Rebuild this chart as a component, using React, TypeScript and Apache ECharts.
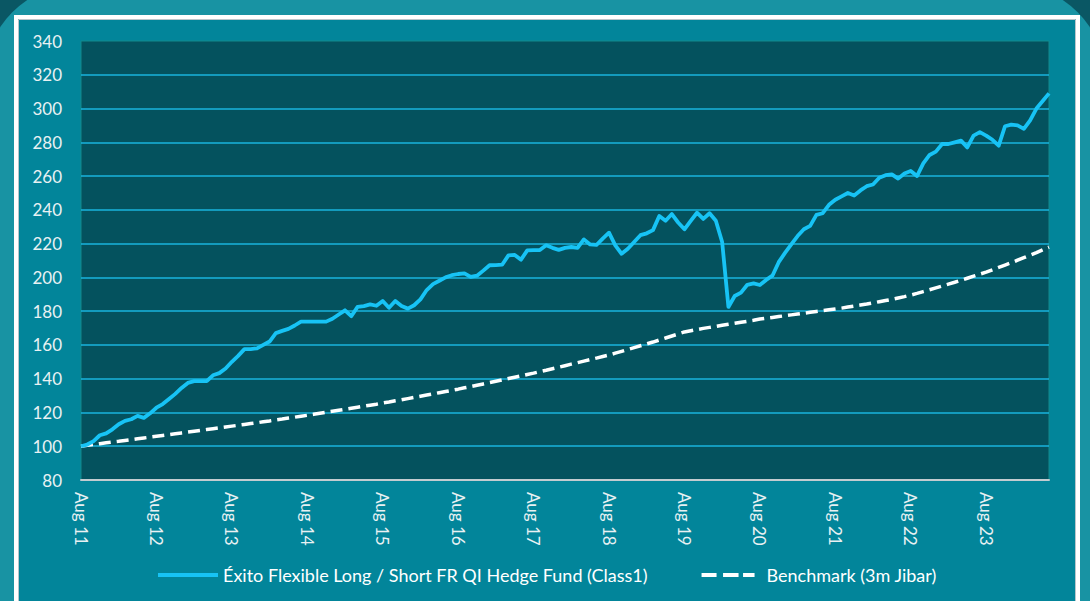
import React, { useEffect, useRef } from "react";
import * as echarts from "echarts";

const MONTHS = ["Jan", "Feb", "Mar", "Apr", "May", "Jun", "Jul", "Aug", "Sep", "Oct", "Nov", "Dec"];
const FIRST_YEAR = 11;
const FIRST_MONTH = 7; // Aug
const POINTS = 155;

const categories: string[] = [];
for (let i = 0; i < POINTS; i++) {
  const m = (FIRST_MONTH + i) % 12;
  const y = FIRST_YEAR + Math.floor((FIRST_MONTH + i) / 12);
  categories.push(`${MONTHS[m]} ${y}`);
}

const fundName = "Éxito Flexible Long / Short FR QI Hedge Fund (Class1)";
const benchName = "Benchmark (3m Jibar)";

const fund = [
  100, 101, 103, 106.5, 107.6, 110, 113, 115, 116, 118, 116.8, 119.5,
  122.8, 125, 128, 131, 134.5, 137.5, 138.6, 138.6, 138.6, 142, 143.3, 146,
  150, 153.5, 157.5, 157.5, 158, 160, 162, 167, 168.3, 169.5, 171.5, 173.8,
  173.8, 173.8, 173.8, 173.8, 175.5, 178, 180.5, 177, 182.5, 183, 184, 183.2,
  186, 182, 186, 183, 181.5, 183.5, 187, 192.5, 196, 198, 200, 201.3,
  202, 202.4, 200.3, 201, 204, 207.2, 207.3, 207.5, 213, 213.3, 210.5, 216,
  216.2, 216.2, 219, 217.5, 216.3, 217.5, 218, 217.5, 222.5, 219.5, 219.2, 223,
  226.5, 219, 214, 217, 221, 225, 226.1, 228, 236.4, 233.5, 237.5, 232.5,
  228.5, 233.5, 238.3, 234.6, 238, 233.5, 221, 182.5, 189, 191, 195.6, 196.5,
  195.5, 198.5, 201, 209, 214.5, 219.5, 224.5, 228.5, 230.5, 237, 238, 243,
  246, 248, 250, 248.5, 251.5, 254, 255, 259, 260.5, 261, 258.5, 261.5,
  263, 260, 267.5, 272.5, 274.5, 279, 279, 280, 281, 277, 284, 286,
  284, 281.5, 278, 289.5, 290.5, 290, 288, 293, 300, 304.5, 309,
];

const benchmark = [
  100.0, 100.5, 101.0, 101.5, 102.0, 102.5, 102.9, 103.4, 103.9, 104.4, 104.9, 105.4,
  105.9, 106.4, 106.9, 107.4, 107.9, 108.4, 108.9, 109.4, 109.9, 110.4, 110.9, 111.4,
  111.9, 112.4, 112.9, 113.4, 113.9, 114.5, 115.0, 115.6, 116.1, 116.7, 117.2, 117.8,
  118.3, 118.9, 119.5, 120.1, 120.7, 121.3, 121.9, 122.5, 123.1, 123.7, 124.3, 124.9,
  125.6, 126.2, 126.9, 127.5, 128.2, 128.9, 129.6, 130.3, 131.0, 131.7, 132.4, 133.1,
  133.8, 134.6, 135.3, 136.1, 136.9, 137.7, 138.5, 139.3, 140.1, 140.9, 141.7, 142.5,
  143.3, 144.2, 145.0, 145.9, 146.8, 147.7, 148.6, 149.5, 150.4, 151.3, 152.2, 153.1,
  154.0, 155.1, 156.2, 157.3, 158.4, 159.5, 160.6, 161.7, 162.9, 164.1, 165.3, 166.5,
  167.7, 168.4, 169.1, 169.8, 170.4, 171.0, 171.6, 172.2, 172.8, 173.4, 174.0, 174.6,
  175.3, 175.8, 176.3, 176.8, 177.3, 177.8, 178.3, 178.8, 179.3, 179.8, 180.3, 180.8,
  181.3, 181.8, 182.4, 183.0, 183.6, 184.2, 184.9, 185.6, 186.3, 187.0, 187.8, 188.6,
  189.5, 190.5, 191.6, 192.7, 193.8, 194.9, 196.0, 197.1, 198.3, 199.5, 200.7, 201.9,
  203.1, 204.5, 205.9, 207.3, 208.7, 210.2, 211.7, 213.2, 214.7, 216.3, 217.9,
];

const Y_MIN = 80;
const Y_MAX = 340;
const Y_STEP = 20;

const FONT = "Lato, 'Open Sans', sans-serif";
const GRID_COLOR = "#19b5de";
const FUND_COLOR = "#17c3f5";

const SOLID_ICON = "path://M0,0H60V4H0Z";
const DASH_ICON = "path://M0,0H15V4H0Z M21.5,0H37V4H21.5Z M41.5,0H53V4H41.5Z M60,0L60,4L60,4Z";

export default function App() {
  const ref = useRef<HTMLDivElement>(null);

  useEffect(() => {
    if (!ref.current) return;
    const chart = echarts.init(ref.current, null, { renderer: "svg" });
    const nLines = (Y_MAX - Y_MIN) / Y_STEP + 1;
    const splitColors: string[] = [];
    for (let k = 0; k < nLines; k++) {
      splitColors.push(k === 0 || k === nLines - 1 ? "rgba(0,0,0,0)" : GRID_COLOR);
    }
    chart.setOption({
      animation: false,
      backgroundColor: "#0a5764",
      textStyle: { fontFamily: FONT },
      graphic: [
        {
          type: "rect",
          z: -10,
          silent: true,
          shape: { x: -17, y: -17, width: 1124, height: 720, r: 100 },
          style: { fill: "#1893a3" },
        },
        {
          type: "rect",
          z: -9,
          silent: true,
          shape: { x: 16, y: 17, width: 1062, height: 700 },
          style: { fill: "#02859a", stroke: "#ffffff", lineWidth: 4 },
        },
        {
          type: "rect",
          z: -8,
          silent: true,
          shape: { x: 18.5, y: 19.5, width: 1057, height: 700 },
          style: { fill: "none", stroke: "#b9c6cb", lineWidth: 1 },
        },
      ],
      grid: {
        left: 81,
        right: 41,
        top: 41,
        bottom: 121,
        show: true,
        backgroundColor: "#04525e",
        borderColor: "#138a8c",
        borderWidth: 1,
      },
      legend: {
        left: 153,
        top: 561,
        itemWidth: 60,
        itemHeight: 4,
        itemGap: 54,
        textStyle: { color: "#ffffff", fontSize: 18, fontFamily: FONT },
        data: [
          { name: fundName, icon: SOLID_ICON, itemStyle: { color: FUND_COLOR } },
          { name: benchName, icon: DASH_ICON, itemStyle: { color: "#ffffff" } },
        ],
      },
      xAxis: {
        type: "category",
        data: categories,
        boundaryGap: false,
        axisLine: { show: true, lineStyle: { color: "#c3ccd0", width: 2 } },
        axisTick: { show: false },
        splitLine: { show: false },
        axisLabel: {
          interval: 11,
          rotate: -90,
          margin: 12,
          color: "#e8f1f3",
          fontSize: 17,
          fontFamily: FONT,
        },
      },
      yAxis: {
        type: "value",
        min: Y_MIN,
        max: Y_MAX,
        interval: Y_STEP,
        axisLine: { show: false },
        axisTick: { show: false },
        axisLabel: { color: "#e8f1f3", fontSize: 17, margin: 19, fontFamily: FONT },
        splitLine: { show: true, lineStyle: { color: splitColors, width: 1.5 } },
      },
      series: [
        {
          name: fundName,
          type: "line",
          data: fund,
          symbol: "none",
          showSymbol: false,
          z: 4,
          lineStyle: { color: FUND_COLOR, width: 3.8, join: "round" },
          itemStyle: { color: FUND_COLOR },
        },
        {
          name: benchName,
          type: "line",
          data: benchmark,
          symbol: "none",
          showSymbol: false,
          z: 3,
          lineStyle: { color: "#ffffff", width: 3.5, type: [12, 6] },
          itemStyle: { color: "#ffffff" },
        },
      ],
    });
    return () => chart.dispose();
  }, []);

  return (
    <div
      ref={ref}
      style={{ position: "fixed", left: 0, top: 0, width: 1090, height: 601 }}
    />
  );
}
